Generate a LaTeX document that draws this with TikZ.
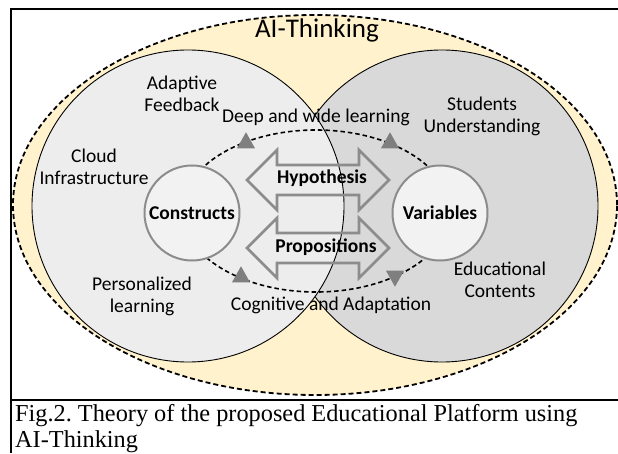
\documentclass[tikz,border=0pt]{standalone}
\usepackage{fontspec}
\setmainfont{Carlito}
\newfontfamily\capfont{Liberation Serif}
\usetikzlibrary{shapes.geometric}

\definecolor{thinkbg}{HTML}{FFF2CC}
\definecolor{leftbg}{HTML}{EDEDED}
\definecolor{rightbg}{HTML}{D9D9D9}
\definecolor{corebg}{HTML}{F2F2F2}
\definecolor{ringgray}{HTML}{8C8C8C}
\definecolor{tipgray}{HTML}{7F7F7F}

\tikzset{
  lbl/.style={align=center,inner sep=0pt,font=\fontsize{19.5}{22}\selectfont},
  boldlbl/.style={inner sep=0pt,font=\fontsize{19.5}{22}\selectfont\bfseries},
  core/.style={boldlbl,circle,draw=ringgray,line width=2pt,fill=corebg,minimum size=95pt},
  flowtip/.style={isosceles triangle,isosceles triangle stretches,fill=tipgray,
    inner sep=0pt,minimum height=16pt,minimum width=18pt},
  captxt/.style={anchor=base west,inner sep=0pt,font=\capfont\fontsize{24.3}{26}\selectfont\frenchspacing},
  twoway/.pic={
    \draw[ringgray,line width=2.7pt]
    (-71,0) -- (-41,30) -- (-41,15) -- (41,15) -- (41,30) -- (71,0) --
    (41,-30) -- (41,-15) -- (-41,-15) -- (-41,-30) -- cycle;
  }
}

\begin{document}
\begin{tikzpicture}[x=1pt,y=1pt]
\useasboundingbox (0,0) rectangle (618,453);

% frame and caption rule
\draw[line width=1.6pt] (618,444) -- (11,444) -- (11,0);
\draw[line width=1.6pt] (11,53) -- (618,53);

% AI-Thinking ellipse
\filldraw[fill=thinkbg,dash pattern=on 5pt off 3pt,line width=1.8pt]
(315,248) ellipse [x radius=302, y radius=190];

% the two big circles
\filldraw[fill=rightbg,line width=0.9pt] (442,247) circle [radius=156];
\filldraw[fill=leftbg,line width=0.9pt] (188,247) circle [radius=156];

% inner loop
\draw[dash pattern=on 4.5pt off 3pt,line width=1.6pt]
(316,242) ellipse [x radius=134, y radius=81];

\node[flowtip,shape border rotate=100] (tipA) at (246,310) {};
\node[flowtip,shape border rotate=80] (tipB) at (390,310) {};
\node[flowtip,shape border rotate=100] (tipC) at (241,176) {};
\node[flowtip,shape border rotate=-80] (tipD) at (395,177) {};

\node[core] (constructs) at (192,240) {Constructs};
\node[core] (variables) at (440,240) {Variables};

\pic at (318,273) {twoway};
\pic at (318,205) {twoway};
\node[boldlbl] (hyp) at (322,275) {Hypothesis};
\node[boldlbl] (prop) at (326,206) {Propositions};

% texts
\node[lbl,font=\fontsize{27}{30}\selectfont] (title) at (317,423) {AI-Thinking};
\node[lbl] (feedback) at (182,359) {Adaptive\\Feedback};
\node[lbl] (cloud) at (94,286) {Cloud\\Infrastructure};
\node[lbl] (personal) at (142,157) {Personalized\\learning};
\node[lbl] (students) at (482,337) {Students\\Understanding};
\node[lbl] (contents) at (500,173) {Educational\\Contents};
\node[lbl] (deep) at (316,336) {Deep and wide learning};
\node[lbl] (cognitive) at (331,148) {Cognitive and Adaptation};

\node[captxt] (cap1) at (15,32) {Fig.2. Theory of the proposed Educational Platform using};
\node[captxt] (cap2) at (15,6) {AI-Thinking};

\end{tikzpicture}
\end{document}
